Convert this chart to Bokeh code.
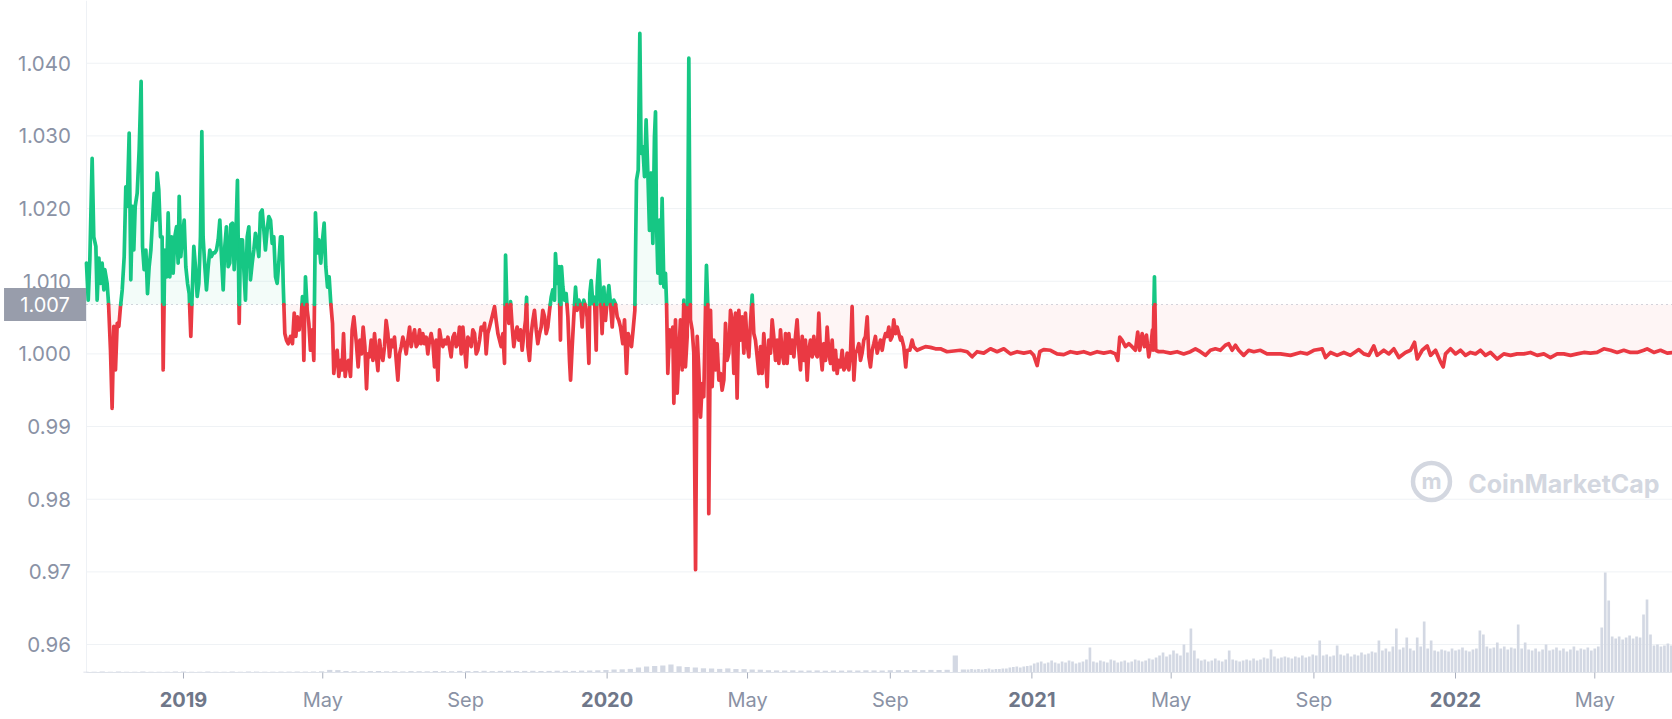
import pandas as pd
from bokeh.plotting import figure
from bokeh.models import Range1d, ColumnDataSource
from bokeh.core.properties import value
from bokeh.embed import file_html
from bokeh.resources import INLINE

# ---------------- data (day offset from 2018-10-09, price in USD) ----------------
START = pd.Timestamp("2018-10-09")
BASELINE = 1.0068          # reference (first) price, shown as "1.007"
BASELINE_LABEL = "1.007"

price_2018_19 = [
    (0.4,1.0125),(1.9,1.0074),(3.3,1.0129),(5.3,1.0269),(6.7,1.0161),(8.5,1.0148),(9.6,1.0074),(11.1,1.0132),
    (12.5,1.0097),(13.9,1.0125),(15.4,1.0088),(16.2,1.0116),(18.2,1.0097),(19.4,1.0070),(21.1,1.0005),(22.5,0.9925),
    (24.0,1.0038),(25.4,0.9978),(26.9,1.0042),(28.3,1.0038),(29.7,1.0065),(31.2,1.0088),(32.9,1.0134),(34.3,1.0230),
    (35.5,1.0203),(37.2,1.0304),(38.6,1.0102),(40.1,1.0203),(41.2,1.0143),(42.4,1.0203),(44.1,1.0221),(45.8,1.0281),
    (47.5,1.0375),(48.7,1.0148),(50.1,1.0116),(51.6,1.0143),(53.0,1.0083),(54.4,1.0120),(55.9,1.0143),(57.3,1.0184),
    (58.7,1.0221),(60.2,1.0184),(61.3,1.0249),(62.7,1.0226),(64.2,1.0161),(65.6,1.0161),(66.5,0.9978),(67.9,1.0143),
    (69.4,1.0106),(70.8,1.0194),(72.2,1.0106),(73.7,1.0161),(75.1,1.0111),(76.5,1.0161),(78.0,1.0175),(79.4,1.0125),
    (80.3,1.0217),(81.7,1.0134),(83.1,1.0161),(84.6,1.0184),(86.0,1.0120),(87.5,1.0097),(88.9,1.0083),(90.3,1.0024),
    (91.8,1.0097),(92.9,1.0148),(94.3,1.0120),(95.8,1.0079),(97.2,1.0097),(98.6,1.0161),(99.8,1.0306),(100.9,1.0161),
    (102.4,1.0120),(103.8,1.0088),(105.3,1.0120),(106.7,1.0143),(108.1,1.0134),(109.6,1.0139),(111.0,1.0139),(112.4,1.0143),
    (113.9,1.0157),(115.3,1.0184),(116.7,1.0134),(118.2,1.0088),(119.6,1.0148),(121.0,1.0175),(122.5,1.0120),(123.9,1.0125),
    (124.8,1.0178),(126.2,1.0180),(127.7,1.0116),(129.1,1.0161),(130.5,1.0239),(132.0,1.0042),(133.1,1.0157),(134.8,1.0157),
    (136.0,1.0116),(137.4,1.0074),(138.9,1.0161),(140.3,1.0175),(141.7,1.0102),(143.2,1.0125),(144.6,1.0143),(146.0,1.0166),
    (147.5,1.0152),(148.9,1.0134),(150.3,1.0194),(151.8,1.0198),(153.2,1.0171),(154.6,1.0143),(156.1,1.0171),(157.5,1.0189),
    (159.0,1.0184),(160.4,1.0152),(161.8,1.0161),(163.3,1.0106),(164.7,1.0097),(166.1,1.0125),(167.6,1.0161),(169.0,1.0161),
    (169.9,1.0097),(171.3,1.0028),(172.7,1.0019),(174.2,1.0014),(176.2,1.0024),(177.9,1.0014),(179.4,1.0056),(180.8,1.0024),
    (182.2,1.0051),(183.7,1.0033),(185.1,1.0042),(186.5,1.0079),(187.7,0.9991),(189.1,1.0106),(190.6,1.0060),(192.0,1.0042),
    (193.4,1.0005),(194.9,1.0033),(196.3,0.9991),(197.7,1.0194),(199.2,1.0139),(200.6,1.0157),(202.3,1.0125),(203.8,1.0157),
    (205.2,1.0180),(206.6,1.0120),(208.1,1.0092),(209.5,1.0106),(210.9,1.0070),(212.4,1.0042),(213.5,0.9973),(215.0,0.9996),
    (216.4,1.0005),(217.8,0.9969),(219.3,0.9991),(220.7,0.9978),(221.9,1.0028),(223.3,0.9969),(224.7,0.9987),(226.2,0.9991),
    (227.9,0.9969),(229.3,1.0033),(230.8,1.0051),(233.0,1.0014),
]

price_2019_20 = [
    (234.5,0.9982),(236.0,1.0019),(237.4,1.0000),(238.8,1.0037),(240.3,1.0010),(241.7,0.9952),(242.9,1.0000),(244.3,0.9996),
    (245.7,1.0019),(247.2,0.9991),(248.6,1.0028),(250.0,1.0000),(251.5,0.9977),(252.9,1.0019),(254.3,1.0000),(255.8,0.9991),
    (257.2,1.0010),(258.6,1.0046),(260.1,1.0028),(261.5,0.9996),(263.0,1.0019),(264.4,1.0010),(265.8,1.0023),(267.3,0.9991),
    (268.7,0.9964),(270.1,1.0000),(271.6,1.0010),(273.0,1.0023),(274.4,1.0014),(275.9,1.0000),(277.3,1.0019),(278.8,1.0037),
    (280.2,1.0010),(281.6,1.0023),(283.1,1.0033),(284.5,1.0010),(285.9,1.0014),(287.4,1.0033),(288.8,1.0014),(290.2,1.0028),
    (291.7,1.0014),(293.1,1.0023),(294.5,1.0000),(296.0,1.0019),(297.4,1.0028),(298.9,1.0014),(300.3,0.9982),(301.7,1.0019),
    (303.2,0.9964),(304.6,1.0033),(306.0,1.0019),(307.5,1.0010),(308.9,1.0019),(310.3,1.0014),(311.8,1.0023),(313.2,1.0010),
    (314.6,0.9996),(316.1,1.0023),(317.5,1.0028),(319.0,1.0010),(320.4,1.0014),(321.8,1.0037),(323.3,1.0000),(324.7,1.0037),
    (326.1,1.0010),(327.6,0.9982),(329.0,1.0023),(330.4,1.0019),(331.9,1.0010),(333.3,1.0033),(334.8,1.0028),(336.2,1.0000),
    (337.6,1.0005),(339.1,1.0019),(340.5,1.0037),(341.9,1.0033),(343.4,1.0042),(344.8,1.0000),(346.2,1.0028),(347.7,1.0037),
    (349.1,1.0046),(350.5,1.0055),(352.0,1.0065),(353.4,1.0046),(354.9,1.0028),(356.3,1.0019),(357.7,1.0010),(359.2,1.0028),
    (360.6,0.9987),(361.5,1.0136),(362.9,1.0051),(364.3,1.0042),(365.8,1.0072),(367.2,1.0037),(368.6,1.0010),(370.1,1.0028),
    (371.5,1.0037),(372.9,1.0019),(374.4,1.0033),(375.8,1.0005),(377.3,1.0028),(378.7,1.0046),(379.6,1.0078),(380.7,1.0010),
    (382.1,0.9991),(383.6,1.0028),(385.0,1.0046),(386.4,1.0060),(387.9,1.0033),(389.3,1.0014),(390.8,1.0028),(392.2,1.0037),
    (393.6,1.0060),(395.1,1.0051),(396.5,1.0028),(397.9,1.0037),(399.4,1.0060),(400.8,1.0078),(402.2,1.0088),(403.7,1.0074),
    (404.5,1.0138),(406.0,1.0097),(407.4,1.0120),(408.8,1.0019),(409.7,1.0120),(410.9,1.0092),(412.3,1.0074),(413.7,1.0083),
    (415.2,1.0051),(416.6,0.9991),(417.5,0.9964),(418.9,1.0010),(420.3,1.0051),(421.8,1.0092),(423.2,1.0060),(424.6,1.0074),
    (426.1,1.0069),(427.5,1.0037),(428.9,1.0074),(430.4,1.0065),(431.8,1.0051),(433.3,0.9987),(434.1,1.0083),(435.3,1.0101),
    (436.7,1.0069),(438.1,1.0078),(439.6,1.0005),(440.4,1.0092),(441.9,1.0129),(443.3,1.0078),(444.7,1.0028),(446.2,1.0092),
    (447.6,1.0046),(449.1,1.0074),(450.5,1.0094),(451.9,1.0069),(453.4,1.0037),(454.8,1.0074),(456.2,1.0069),(457.7,1.0051),
    (459.1,1.0046),
]

price_2020 = [
    (460.5,1.0037),(462.5,1.0014),(464.0,1.0047),(465.7,0.9973),(467.1,1.0028),(468.6,1.0019),(470.0,1.0010),(471.4,1.0033),
    (472.9,1.0060),(474.3,1.0239),(475.8,1.0253),(477.2,1.0441),(478.3,1.0276),(479.8,1.0285),(481.2,1.0244),(482.6,1.0322),
    (484.1,1.0249),(485.5,1.0170),(487.0,1.0249),(488.4,1.0152),(489.8,1.0299),(490.7,1.0333),(491.5,1.0184),(492.7,1.0111),
    (494.1,1.0184),(495.0,1.0097),(496.4,1.0214),(497.9,1.0092),(499.3,1.0111),(500.2,1.0070),(501.3,0.9973),(502.8,1.0033),
    (504.2,1.0010),(505.6,1.0037),(506.5,0.9932),(507.9,1.0047),(509.4,0.9946),(510.8,1.0001),(512.2,1.0047),(513.7,0.9978),
    (515.1,1.0074),(516.5,0.9982),(518.0,1.0024),(519.4,1.0407),(520.8,1.0047),(522.3,1.0033),(523.7,1.0001),(525.2,0.9703),
    (526.6,1.0024),(528.0,0.9978),(529.5,0.9913),(530.9,0.9959),(532.3,0.9941),(533.8,1.0065),(534.6,1.0122),(535.8,1.0065),
    (536.6,0.9780),(538.1,1.0060),(539.5,0.9955),(541.0,1.0019),(542.4,0.9978),(543.8,1.0014),(545.3,0.9964),(546.7,0.9973),
    (548.1,0.9950),(549.6,0.9964),(551.0,1.0042),(552.4,0.9991),(553.9,1.0001),(555.3,1.0060),(556.7,1.0047),(558.2,0.9973),
    (559.6,1.0056),(561.0,0.9939),(562.5,1.0060),(563.9,1.0019),(565.4,1.0051),(566.8,1.0001),(568.2,1.0056),(569.7,1.0014),
    (571.1,0.9996),(572.5,1.0042),(574.0,1.0081),(575.4,1.0028),(576.8,1.0019),(578.3,0.9996),(579.7,0.9973),(581.2,1.0010),
    (582.6,0.9973),(584.0,1.0028),(585.5,0.9996),(586.9,0.9955),(588.3,1.0019),(589.8,1.0001),(591.2,1.0047),(592.6,1.0024),
    (594.1,0.9991),(595.5,1.0019),(597.0,0.9987),(598.4,1.0033),(599.8,1.0001),(601.3,0.9987),(602.7,1.0028),(604.1,0.9987),
    (605.6,1.0028),(607.0,1.0001),(608.4,1.0019),(609.9,0.9996),(611.3,1.0024),(612.7,1.0047),(614.2,1.0005),(615.6,0.9978),
    (617.1,1.0024),(618.5,0.9991),(619.9,1.0019),(621.4,0.9964),(622.8,1.0005),(624.2,1.0019),(625.7,0.9996),(627.1,1.0024),
    (628.5,1.0001),(630.0,0.9996),(631.4,1.0056),(632.8,1.0005),(634.3,0.9978),(635.7,1.0014),(637.2,0.9991),(638.6,1.0037),
    (640.0,1.0001),(641.5,0.9987),(642.9,1.0019),(644.3,0.9978),(645.8,1.0005),(647.2,0.9973),(648.6,0.9991),(650.1,0.9982),
    (651.5,1.0005),(653.0,0.9978),(654.4,0.9982),(655.8,1.0001),(657.3,0.9978),(658.7,1.0001),(660.1,1.0065),(661.6,0.9964),
    (663.0,1.0001),(664.4,1.0005),(665.9,1.0014),(667.3,0.9991),(668.7,1.0001),(670.2,1.0019),(671.6,1.0024),(673.1,1.0051),
    (674.5,0.9996),(675.9,0.9982),(677.4,1.0005),(678.8,1.0014),(680.2,1.0024),(681.7,1.0001),(683.1,1.0010),(684.5,1.0019),
    (686.0,1.0005),(687.4,1.0019),(688.9,1.0028),(690.3,1.0024),(691.7,1.0037),(693.2,1.0019),(694.6,1.0024),(696.0,1.0047),
    (697.5,1.0028),(698.9,1.0037),(701.8,1.0019),
]

price_2020_21 = [
    (702.6,1.0023),(704.6,1.0010),(706.3,0.9982),(707.5,1.0005),(709.8,1.0005),(711.8,1.0019),(713.2,1.0010),(716.1,1.0005),
    (719.0,1.0007),(723.3,1.0010),(727.6,1.0009),(731.9,1.0007),(736.2,1.0007),(741.9,1.0003),(747.7,1.0004),(753.4,1.0005),
    (759.2,1.0003),(763.5,0.9996),(767.8,1.0003),(773.5,1.0001),(779.3,1.0007),(785.0,1.0003),(790.8,1.0007),(796.5,1.0000),
    (802.3,1.0003),(808.0,1.0001),(813.7,1.0003),(816.6,0.9998),(819.5,0.9984),(821.8,1.0003),(825.2,1.0006),(831.0,1.0005),
    (836.7,1.0000),(842.5,0.9999),(848.2,1.0003),(853.9,1.0001),(859.7,1.0003),(865.4,1.0000),(871.2,1.0003),(876.9,1.0001),
    (882.7,1.0003),(887.0,1.0000),(889.0,0.9991),(890.7,1.0023),(892.7,1.0019),(895.6,1.0010),(898.5,1.0014),(901.3,1.0010),
    (904.2,1.0005),(906.2,1.0030),(907.9,1.0005),(910.0,1.0028),(912.0,1.0010),(913.7,1.0026),(915.7,0.9996),(917.7,1.0014),
    (918.9,1.0033),(919.4,1.0005),(920.6,1.0106),(921.7,1.0005),(924.3,1.0003),(928.6,1.0003),(934.4,1.0001),(940.1,1.0003),
    (945.8,1.0000),(951.6,1.0003),(955.9,1.0007),(960.2,1.0003),(964.5,0.9998),(968.8,1.0005),(973.1,1.0007),(977.4,1.0005),
    (981.7,1.0012),(984.6,1.0014),(987.5,1.0005),(990.4,1.0012),(993.2,1.0005),(997.5,0.9998),(1001.8,1.0005),(1006.2,1.0003),
    (1011.9,1.0005),(1017.6,1.0000),(1021.9,1.0000),
]

price_2021_22 = [
    (1029.2,1.0000),(1037.8,0.9998),(1046.4,1.0002),(1052.2,1.0000),(1057.9,1.0005),(1065.1,1.0007),(1068.0,0.9995),
    (1072.3,1.0002),(1078.0,0.9998),(1083.8,1.0002),(1089.5,0.9998),(1096.7,1.0006),(1101.0,1.0000),(1105.3,0.9998),
    (1109.6,1.0011),(1112.5,0.9998),(1118.2,1.0005),(1122.6,1.0000),(1126.9,1.0007),(1131.2,0.9995),(1136.9,1.0002),
    (1141.2,1.0005),(1144.7,1.0016),(1147.0,0.9993),(1151.3,1.0005),(1155.6,1.0011),(1158.5,0.9998),(1162.8,1.0005),
    (1167.1,0.9989),(1169.4,0.9982),(1171.4,1.0000),(1175.7,1.0007),(1180.0,1.0000),(1184.3,1.0005),(1188.6,0.9998),
    (1192.9,1.0002),(1197.2,1.0000),(1201.5,1.0005),(1205.8,0.9998),(1210.1,1.0002),(1215.9,0.9993),(1221.6,1.0000),
    (1227.4,0.9998),(1233.1,1.0000),(1238.9,1.0000),(1244.6,1.0002),(1250.4,0.9998),(1256.1,1.0000),(1261.8,0.9995),
    (1267.6,1.0000),(1273.3,1.0000),(1279.1,0.9998),(1284.8,1.0000),(1290.6,1.0002),(1296.3,1.0001),(1302.0,1.0002),
    (1307.8,1.0007),(1313.5,1.0005),(1319.3,1.0002),(1325.0,1.0005),(1330.8,1.0002),(1336.5,1.0002),(1342.3,1.0005),
    (1345.1,1.0007),(1350.9,1.0002),(1356.6,1.0005),(1362.4,1.0001),(1367.0,1.0002),
]

# 24h volume (hundreds of millions USD); weekly until early Nov 2020, then every 3 days
volume_weekly = [
    0.8,0.7,0.9,0.8,1.0,0.8,0.7,0.9,0.8,0.8,0.7,0.9,1.0,0.8,0.8,0.9,0.7,0.8,0.9,0.8,1.0,0.9,0.8,0.8,0.9,0.9,1.0,0.9,1.0,
    1.2,2.6,2.4,1.5,1.3,1.2,1.4,1.5,1.2,1.3,1.1,1.4,1.3,1.2,1.5,1.4,1.3,1.6,1.5,
    1.5,1.7,1.4,1.6,1.8,1.5,1.6,1.7,1.5,1.6,1.8,1.7,1.6,1.9,2.0,2.2,
    2.5,3.0,3.2,3.6,
    5.0,6.0,6.5,7.0,8.0,6.2,5.5,5.0,
    4.2,4.0,3.6,4.1,3.5,3.4,3.0,2.8,
    2.3,2.1,2.0,2.2,1.9,2.0,2.1,1.8,2.0,1.9,2.1,2.0,2.2,2.1,2.0,2.3,
    2.4,2.3,2.5,2.4,2.6,2.5,2.7,17.0,3.0,
]
volume_3day = [
    3,3.5,3,3.5,3,3.5,4,3,3.5,3.5,4,4,
    5,5.5,6,5,6,6.5,7,
    9,10,11,9,10,12,10,9,11,10,12,11,9,10,11,13,
    25,
    11,10,12,11,10,13,12,10,11,12,10,11,13,12,11,12,14,13,
    15,17,20,16,18,22,19,17,
    28,20,44,22,
    14,12,13,11,12,14,12,11,13,22,13,12,11,12,13,12,14,12,13,
    15,14,23,16,14,15,16,15,14,16,15,17,15,16,18,17,
    32,
    17,18,16,17,27,18,17,19,16,18,17,20,18,19,21,20,
    32,
    22,24,21,26,44,23,25,35,24,22,35,26,
    51,
    24,32,22,21,23,22,21,24,22,23,25,22,21,23,24,
    42,38,
    26,24,25,30,24,26,23,25,24,
    48,
    24,30,23,22,24,21,23,28,22,23,25,22,24,21,23,26,22,24,23,25,22,24,26,
    45,100,72,36,
    34,36,33,35,37,34,36,35,
    58,73,38,
    27,28,26,27,29,27,
]
VOL_WEEKLY_START = "2018-10-09"
VOL_3DAY_START = "2020-11-07"

x_ticks = ["2019-01-01","2019-05-01","2019-09-01","2020-01-01","2020-05-01","2020-09-01",
           "2021-01-01","2021-05-01","2021-09-01","2022-01-01","2022-05-01"]
x_tick_labels = ["2019","May","Sep","2020","May","Sep","2021","May","Sep","2022","May"]
y_ticks = [0.96,0.97,0.98,0.99,1.0,1.01,1.02,1.03,1.04]
y_tick_labels = ["0.96","0.97","0.98","0.99","1.000","1.010","1.020","1.030","1.040"]

# ---------------- helpers ----------------
DAY_MS = 86400000.0
T0 = START.value / 1e6
def ms(d):
    return T0 + d * DAY_MS
def date_ms(s):
    return pd.Timestamp(s).value / 1e6

pts = price_2018_19 + price_2019_20 + price_2020 + price_2020_21 + price_2021_22
xs = [ms(d) for d, _ in pts]
ys = [v for _, v in pts]

GREEN = "#16c784"
RED = "#ea3943"
FONT = "Inter"

# split the line into runs above / below the baseline
runs = []
cx, cy = [xs[0]], [ys[0]]
cup = ys[0] >= BASELINE
for i in range(1, len(xs)):
    x0, y0, x1, y1 = xs[i-1], ys[i-1], xs[i], ys[i]
    up = y1 >= BASELINE
    if up == cup:
        cx.append(x1); cy.append(y1)
    else:
        t = (BASELINE - y0) / (y1 - y0)
        xc = x0 + t * (x1 - x0)
        cx.append(xc); cy.append(BASELINE)
        runs.append((cup, cx, cy))
        cx, cy, cup = [xc, x1], [BASELINE, y1], up
runs.append((cup, cx, cy))

line_src = ColumnDataSource(dict(
    xs=[r[1] for r in runs], ys=[r[2] for r in runs],
    color=[GREEN if r[0] else RED for r in runs]))
fill_src = ColumnDataSource(dict(
    xs=[r[1] + [r[1][-1], r[1][0]] for r in runs],
    ys=[r[2] + [BASELINE, BASELINE] for r in runs],
    color=[GREEN if r[0] else RED for r in runs]))

# ---------------- figure ----------------
# canvas = frame; the plotting area proper starts at PX0 / PY0, axes drawn inside
X0, X1 = ms(-73.67), ms(1366.96)
Y0, Y1 = 0.949684, 1.048637
PX0 = ms(0.43)
PY0 = 0.95615
PX_PER_UNIT_Y = 7266.0

p = figure(width=1672, height=719, output_backend="svg", toolbar_location=None,
           x_axis_type="datetime", x_range=Range1d(X0, X1), y_range=Range1d(Y0, Y1),
           min_border_left=0, min_border_right=0, min_border_top=0, min_border_bottom=0)
p.outline_line_color = None
p.background_fill_color = "white"
p.border_fill_color = "white"
p.axis.visible = False
p.grid.visible = False

p.extra_y_ranges = {"vol": Range1d(-47, 672)}

# grid lines
p.segment(x0=PX0, x1=X1, y0=y_ticks, y1=y_ticks, line_color="#eff2f5", line_width=1)
# left frame line
p.segment(x0=[PX0], x1=[PX0], y0=[PY0], y1=[Y1], line_color="#eef1f5", line_width=1)

# volume bars
vw_x = [date_ms(d) for d in pd.date_range(VOL_WEEKLY_START, periods=len(volume_weekly), freq="7D")]
v3_x = [date_ms(d) for d in pd.date_range(VOL_3DAY_START, periods=len(volume_3day), freq="3D")]
p.vbar(x=vw_x, top=volume_weekly, width=4.5 * DAY_MS, bottom=0, y_range_name="vol",
       fill_color="#d3d8e3", line_color=None)
p.vbar(x=v3_x, top=volume_3day, width=2.3 * DAY_MS, bottom=0, y_range_name="vol",
       fill_color="#d3d8e3", line_color=None)

# bottom axis line
p.segment(x0=[PX0], x1=[X1], y0=[PY0], y1=[PY0], line_color="#dfe3ea", line_width=1)

# area between line and baseline
p.patches(xs="xs", ys="ys", fill_color="color", fill_alpha=0.05, line_color=None, source=fill_src)

# baseline (dotted)
p.segment(x0=[PX0], x1=[X1], y0=[BASELINE], y1=[BASELINE], line_color="#a7adbd",
          line_width=1, line_dash="1 4")

# price line
p.multi_line(xs="xs", ys="ys", line_color="color", line_width=3.7,
             line_join="round", line_cap="round", source=line_src)

# x ticks and labels
xt = [date_ms(d) for d in x_ticks]
p.segment(x0=xt, x1=xt, y0=PY0, y1=PY0 - 6 / PX_PER_UNIT_Y, line_color="#a9afbd", line_width=1)
yr = [(t, l) for t, l in zip(xt, x_tick_labels) if l.isdigit()]
mo = [(t, l) for t, l in zip(xt, x_tick_labels) if not l.isdigit()]
LABEL_Y = 1.0 - (699 - 353.4) / PX_PER_UNIT_Y
p.text(x=[t for t, _ in yr], y=LABEL_Y, text=[l for _, l in yr], text_align="center",
       text_baseline="middle", text_font=value(FONT), text_font_size="20px",
       text_font_style="bold", text_color="#6f7789")
p.text(x=[t for t, _ in mo], y=LABEL_Y, text=[l for _, l in mo], text_align="center",
       text_baseline="middle", text_font=value(FONT), text_font_size="20px",
       text_color="#8a92a5")

# y tick labels
p.text(x=ms(-13.0), y=y_ticks, text=y_tick_labels, text_align="right", text_baseline="middle",
       text_font=value(FONT), text_font_size="20.5px", text_color="#8a92a5")

# baseline value tag
p.rect(x=[ms(-35.3)], y=[BASELINE], width=82, height=33, width_units="screen", height_units="screen",
       fill_color="#959aa8", fill_alpha=0.97, line_color=None)
p.text(x=[ms(-35.3)], y=[BASELINE], text=[BASELINE_LABEL], text_align="center", text_baseline="middle",
       text_font=value(FONT), text_font_size="20px", text_color="white")

# watermark
p.scatter(x=[ms(1159.3)], y=[0.98244], marker="circle", size=37, fill_color=None,
          line_color="#d3d7e0", line_width=4.5)
p.text(x=[ms(1159.3)], y=[0.98244], text=["m"], text_align="center", text_baseline="middle",
       text_font=value(FONT), text_font_size="22px", text_font_style="bold", text_color="#d3d7e0")
p.text(x=[ms(1191.0)], y=[0.98216], text=["CoinMarketCap"], text_align="left",
       text_baseline="middle", text_font=value(FONT), text_font_size="25px",
       text_font_style="bold", text_color="#d3d7e0")

open("out.html", "w").write(file_html(p, INLINE))
